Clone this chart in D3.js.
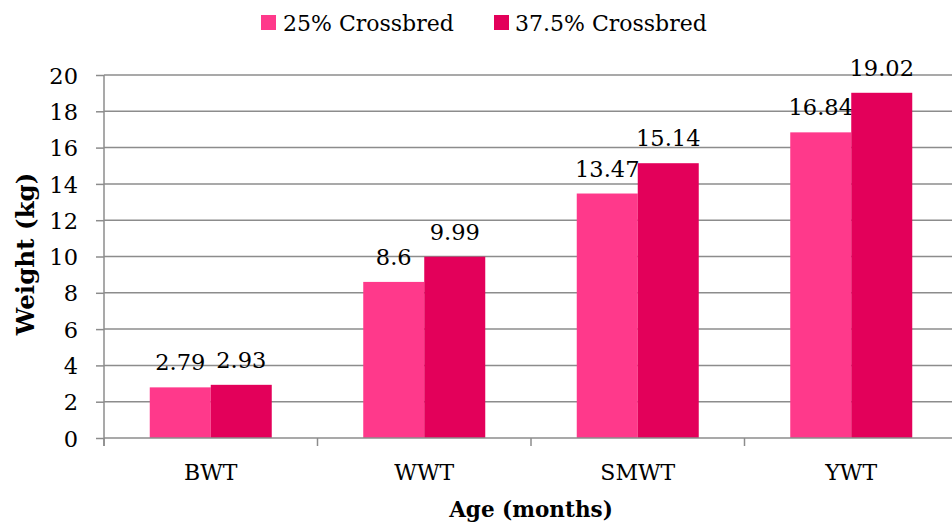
<!DOCTYPE html>
<html><head><meta charset="utf-8">
<script src="https://cdn.jsdelivr.net/npm/d3@7"></script>
<style>body{margin:0;background:#fff}svg text{font-family:"DejaVu Serif",serif;fill:#000}</style>
</head><body>
<svg id="c" width="952" height="525"></svg>
<script>
const categories = ["BWT","WWT","SMWT","YWT"];
const seriesNames = ["25% Crossbred","37.5% Crossbred"];
const series25 = [2.79, 8.6, 13.47, 16.84];
const series375 = [2.93, 9.99, 15.14, 19.02];
const yTicks = [0,2,4,6,8,10,12,14,16,18,20];
const colors = ["#FF398B","#E3005A"];

const svg = d3.select("#c");
const mLeft = 104, mRight = 958, mTop = 75, mBottom = 438;
const x = d3.scaleBand().domain(categories).range([mLeft, mRight]).paddingInner(0).paddingOuter(0);
const inner = d3.scaleBand().domain(seriesNames).range([0, x.bandwidth()]).paddingInner(0).paddingOuter(0.75);
const y = d3.scaleLinear().domain([0,20]).range([mBottom, mTop]);

// gridlines
svg.append("g").selectAll("line").data(yTicks.filter(d=>d>0)).join("line")
  .attr("x1", mLeft).attr("x2", 952).attr("y1", d=>y(d)).attr("y2", d=>y(d))
  .attr("stroke", "#8c8c8c").attr("stroke-width", 1.5);

// y axis
const ya = svg.append("g").attr("transform", `translate(${mLeft},0)`)
  .call(d3.axisLeft(y).tickValues(yTicks).tickSize(8).tickPadding(18).tickFormat(d3.format("d")));
ya.select(".domain").attr("stroke","#8c8c8c").attr("stroke-width",1.5).attr("d", `M0,${mTop}V${mBottom+8}`);
ya.selectAll(".tick line").attr("stroke","#8c8c8c").attr("stroke-width",1.5);
ya.selectAll(".tick text").attr("font-size", 22.5).attr("font-family","DejaVu Serif").attr("fill","#000").attr("dy","0.36em");

// bars
const data = categories.map((c,i)=>({c, vals:[series25[i], series375[i]]}));
const g = svg.append("g");
data.forEach(d=>{
  d.vals.forEach((v,j)=>{
    const bx = x(d.c) + inner(seriesNames[j]);
    g.append("rect").attr("x", bx).attr("y", y(v)).attr("width", inner.bandwidth()).attr("height", y(0)-y(v))
      .attr("fill", colors[j]);
    g.append("text").attr("x", bx + inner.bandwidth()/2).attr("y", y(v) - 17)
      .attr("text-anchor","middle").attr("font-size", 22.5).text(v);
  });
});

// x axis
const xa = svg.append("g").attr("transform", `translate(0,${mBottom})`)
  .call(d3.axisBottom(x).tickSize(0).tickPadding(26));
xa.select(".domain").attr("stroke","#8c8c8c").attr("stroke-width",1.5).attr("d", `M${mLeft},0H952`);
xa.selectAll(".tick text").attr("font-size", 22).attr("font-family","DejaVu Serif").attr("fill","#000");
svg.append("g").selectAll("line").data(categories).join("line")
  .attr("x1", d=>x(d)).attr("x2", d=>x(d)).attr("y1", mBottom).attr("y2", mBottom+8)
  .attr("stroke","#8c8c8c").attr("stroke-width",1.5);

// axis titles
svg.append("text").attr("x", 531).attr("y", 517).attr("text-anchor","middle")
  .attr("font-size", 21.5).attr("font-weight","bold").text("Age (months)");
svg.append("text").attr("transform","translate(34,254) rotate(-90)").attr("text-anchor","middle")
  .attr("font-size", 24.5).attr("font-weight","bold").text("Weight (kg)");

// legend
const leg = [{x:261, tx:283},{x:494, tx:515}];
seriesNames.forEach((s,i)=>{
  svg.append("rect").attr("x", leg[i].x).attr("y", 15).attr("width", 15).attr("height", 15).attr("fill", colors[i]);
  svg.append("text").attr("x", leg[i].tx).attr("y", 31).attr("font-size", 22).text(s);
});
</script>
</body></html>
